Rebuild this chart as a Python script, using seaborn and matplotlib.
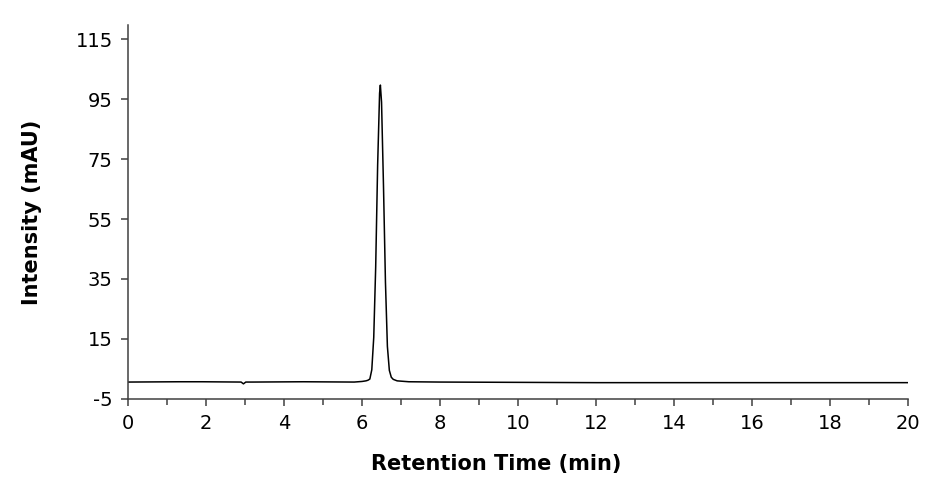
import pandas as pd
import matplotlib.pyplot as plt
import seaborn as sns
from matplotlib.ticker import MultipleLocator

# chromatogram trace (time in min, intensity in mAU)
time_min = [0.0, 1.3, 1.9, 2.9, 2.96, 3.02, 3.2, 4.5, 5.8, 6.0, 6.1, 6.15,
            6.2, 6.25, 6.3, 6.35, 6.4, 6.45, 6.47, 6.5, 6.55, 6.6, 6.65,
            6.7, 6.75, 6.8, 6.9, 7.0, 7.2, 8.0, 10.0, 12.0, 15.0, 18.0, 20.0]
intensity = [0.6, 0.7, 0.7, 0.6, 0.0, 0.6, 0.6, 0.7, 0.6, 0.8, 1.0, 1.2,
             1.6, 4.7, 15.5, 39.0, 73.0, 97.0, 99.7, 94.0, 66.0, 34.0, 12.5,
             4.5, 2.2, 1.5, 1.0, 0.9, 0.7, 0.6, 0.5, 0.4, 0.4, 0.4, 0.4]

x_ticks = list(range(0, 21, 2))
y_ticks = list(range(-5, 116, 20))

df = pd.DataFrame({"time": time_min, "intensity": intensity})

sns.set_style("ticks")
plt.rcParams["font.family"] = ["DejaVu Sans"]
plt.rcParams["axes.unicode_minus"] = False
plt.rcParams["text.color"] = "black"
plt.rcParams["axes.labelcolor"] = "black"
plt.rcParams["xtick.labelcolor"] = "black"
plt.rcParams["ytick.labelcolor"] = "black"

fig = plt.figure(figsize=(9.5, 4.93), dpi=100)
ax = fig.add_axes([0.1347, 0.191, 0.8213, 0.758])

sns.lineplot(data=df, x="time", y="intensity", color="black", linewidth=1.1, ax=ax)

ax.set_xlim(0, 20)
ax.set_ylim(-5, 119.7)
ax.set_xticks(x_ticks)
ax.set_yticks(y_ticks)
ax.xaxis.set_minor_locator(MultipleLocator(1))

ax.set_xlabel("Retention Time (min)", fontsize=15, fontweight="bold")
ax.set_ylabel("Intensity (mAU)", fontsize=15, fontweight="bold", labelpad=24)
# the title of the x axis sits a bit left of the axis centre in the original
ax.xaxis.set_label_coords(0.472, -0.148)

ax.tick_params(axis="both", which="major", labelsize=14, length=5, width=1.1,
               color="#404040", direction="out", pad=6)
ax.tick_params(axis="x", which="minor", length=4, width=1.1, color="#404040")

for side in ["top", "right"]:
    ax.spines[side].set_visible(False)
for side in ["left", "bottom"]:
    ax.spines[side].set_color("#404040")
    ax.spines[side].set_linewidth(1.1)

plt.savefig("out.png", dpi=100)
